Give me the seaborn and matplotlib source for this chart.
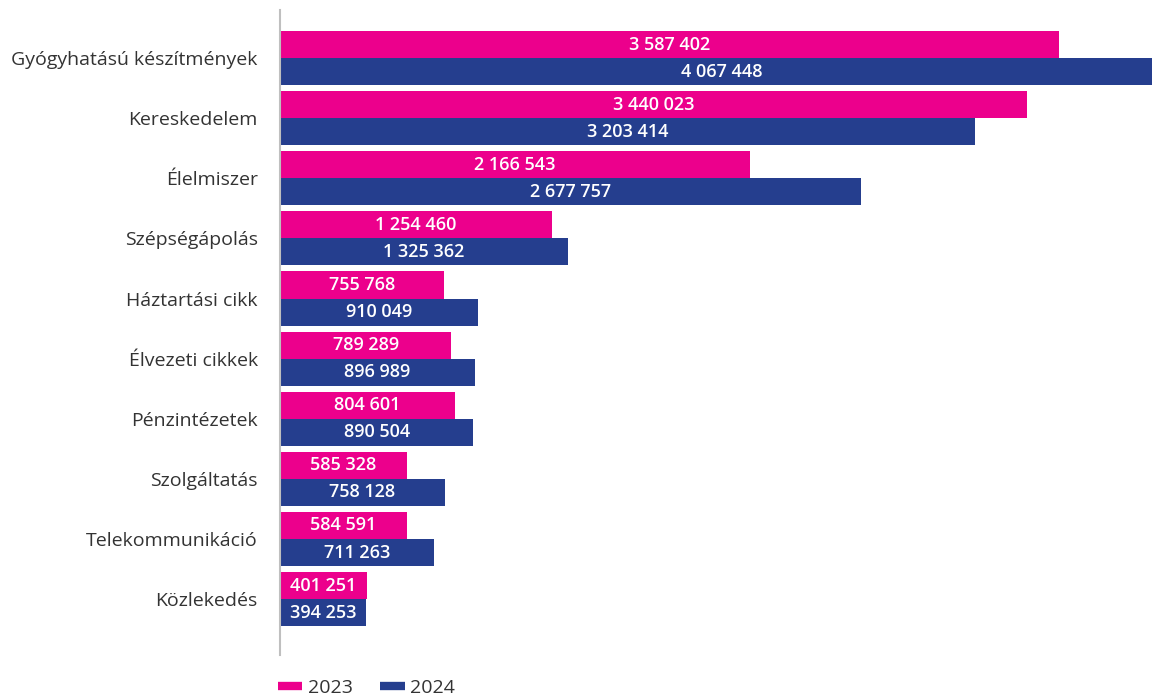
import matplotlib
matplotlib.use("Agg")
import matplotlib.pyplot as plt
from matplotlib.lines import Line2D
import seaborn as sns
import pandas as pd

categories = ["Gyógyhatású készítmények", "Kereskedelem", "Élelmiszer", "Szépségápolás",
              "Háztartási cikk", "Élvezeti cikkek", "Pénzintézetek", "Szolgáltatás",
              "Telekommunikáció", "Közlekedés"]
values_2023 = [3587402, 3440023, 2166543, 1254460, 755768, 789289, 804601, 585328, 584591, 401251]
values_2024 = [4067448, 3203414, 2677757, 1325362, 910049, 896989, 890504, 758128, 711263, 394253]
years = ["2023", "2024"]
colors = ["#EC008C", "#253E8E"]

df = pd.DataFrame({
    "cat": categories * 2,
    "val": values_2023 + values_2024,
    "year": [years[0]] * len(categories) + [years[1]] * len(categories),
})

sns.set_theme(style="white")
plt.rcParams['font.family'] = ['Open Sans', 'DejaVu Sans']

fig = plt.figure(figsize=(11.52, 6.99), dpi=100)
ax = fig.add_axes([280/1152, 44/699, 1 - 280/1152, 645/699])

sns.barplot(data=df, y="cat", x="val", hue="year", orient="h", palette=colors,
            width=0.9, dodge=True, legend=False, ax=ax, saturation=1, linewidth=0)

def fmt(v):
    return f"{v:,}".replace(",", " ")

for cont in ax.containers:
    for bar in cont:
        w = bar.get_width()
        y = bar.get_y() + bar.get_height() / 2
        ax.text(w / 2, y, fmt(int(round(w))), ha="center", va="center", color="white",
                fontsize=13, fontweight="semibold", clip_on=False)

ax.set_xlim(0, 4.018e6)
ax.set_ylim(9.93, -0.80)
ax.set_xlabel("")
ax.set_ylabel("")
ax.set_xticks([])
ax.tick_params(axis="y", length=0, pad=16, labelsize=14, labelcolor="#333333")
for s in ["top", "right", "bottom"]:
    ax.spines[s].set_visible(False)
ax.spines["left"].set_color("#BFBFBF")
ax.spines["left"].set_linewidth(1.5)

handles = [Line2D([0], [0], color=c, lw=6, solid_capstyle="butt") for c in colors]
fig.legend(handles, years, loc="center left", bbox_to_anchor=(278/1152, 1 - 688/699),
           ncol=2, frameon=False, fontsize=14, handlelength=1.25, handletextpad=0.3,
           columnspacing=1.4, labelcolor="#333333", borderaxespad=0, borderpad=0)

fig.savefig("out.png", dpi=100)
